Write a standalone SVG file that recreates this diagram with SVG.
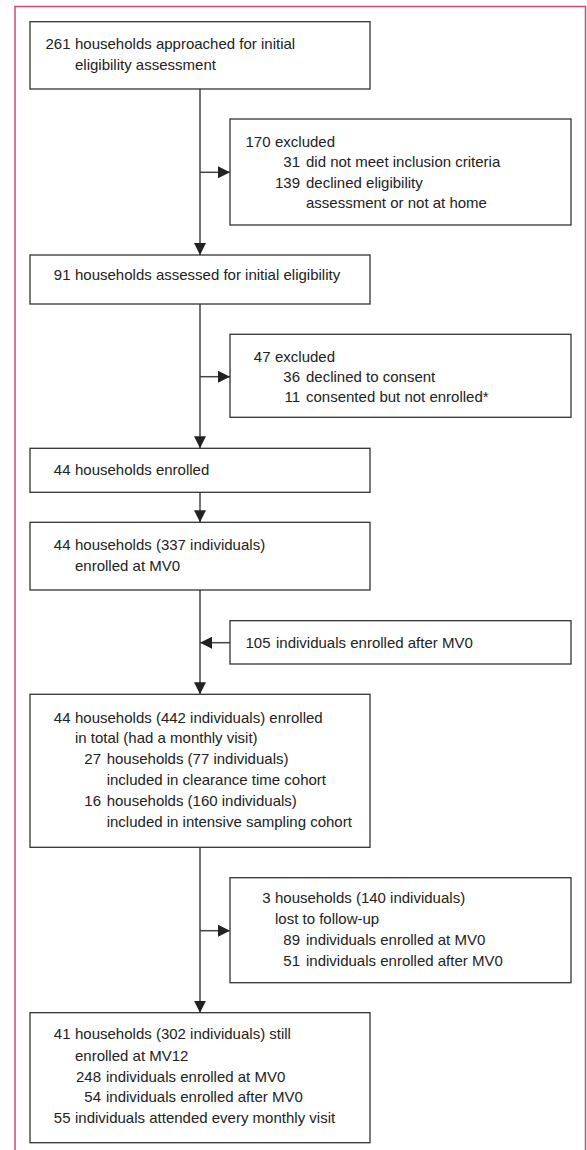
<svg xmlns="http://www.w3.org/2000/svg" width="587" height="1150" viewBox="0 0 587 1150">
<style>
.box{fill:#fff;stroke:#333;stroke-width:1.3}
.t{font-family:"Liberation Sans",Arial,sans-serif;font-size:15px;fill:#222}
.n{text-anchor:end}
.c{fill:none;stroke:#444;stroke-width:1.5}
.frame{fill:none;stroke:#cc4a74;stroke-width:1.5}
</style>
<defs>
<marker id="ah" markerUnits="userSpaceOnUse" markerWidth="12" markerHeight="12" refX="12" refY="6" orient="auto">
<path d="M0,0 L12,6 L0,12 z" fill="#222"/>
</marker>
</defs>
<rect width="587" height="1150" fill="#fff"/>
<path class="frame" d="M15,1150 V6.5 H585.5 V1150"/>

<g id="connectors">
<line class="c" x1="200" y1="89" x2="200" y2="255" marker-end="url(#ah)"/>
<line class="c" x1="200" y1="172.3" x2="230" y2="172.3" marker-end="url(#ah)"/>
<line class="c" x1="200" y1="304" x2="200" y2="448.3" marker-end="url(#ah)"/>
<line class="c" x1="200" y1="376.7" x2="230" y2="376.7" marker-end="url(#ah)"/>
<line class="c" x1="200" y1="492.3" x2="200" y2="522.3" marker-end="url(#ah)"/>
<line class="c" x1="200" y1="590" x2="200" y2="694.3" marker-end="url(#ah)"/>
<line class="c" x1="230" y1="642.7" x2="200" y2="642.7" marker-end="url(#ah)"/>
<line class="c" x1="200" y1="847.3" x2="200" y2="1012.7" marker-end="url(#ah)"/>
<line class="c" x1="200" y1="930.7" x2="230" y2="930.7" marker-end="url(#ah)"/>
</g>

<g id="n1">
<rect class="box" x="30" y="21.7" width="340" height="67.3"/>
<text class="t n" x="70.5" y="49.3">261</text>
<text class="t" x="75" y="49.3">households approached for initial</text>
<text class="t" x="75" y="70">eligibility assessment</text>
</g>

<g id="n2">
<rect class="box" x="230" y="119" width="341" height="106"/>
<text class="t n" x="270.5" y="146.7">170</text>
<text class="t" x="275" y="146.7">excluded</text>
<text class="t n" x="300" y="166.7">31</text>
<text class="t" x="306" y="166.7">did not meet inclusion criteria</text>
<text class="t n" x="300" y="187.7">139</text>
<text class="t" x="306" y="187.7">declined eligibility</text>
<text class="t" x="306" y="208.3">assessment or not at home</text>
</g>

<g id="n3">
<rect class="box" x="30" y="255" width="340" height="49"/>
<text class="t n" x="70.5" y="280">91</text>
<text class="t" x="75" y="280">households assessed for initial eligibility</text>
</g>

<g id="n4">
<rect class="box" x="230" y="334.3" width="341" height="83"/>
<text class="t n" x="270.5" y="361.7">47</text>
<text class="t" x="275" y="361.7">excluded</text>
<text class="t n" x="300" y="381.7">36</text>
<text class="t" x="306" y="381.7">declined to consent</text>
<text class="t n" x="300" y="402">11</text>
<text class="t" x="306" y="402">consented but not enrolled*</text>
</g>

<g id="n5">
<rect class="box" x="30" y="448.3" width="340" height="44"/>
<text class="t n" x="70.5" y="475">44</text>
<text class="t" x="75" y="475">households enrolled</text>
</g>

<g id="n6">
<rect class="box" x="30" y="522.3" width="340" height="67.7"/>
<text class="t n" x="70.5" y="550">44</text>
<text class="t" x="75" y="550">households (337 individuals)</text>
<text class="t" x="75" y="570.7">enrolled at MV0</text>
</g>

<g id="n7">
<rect class="box" x="230" y="620.7" width="341" height="43.3"/>
<text class="t n" x="270.5" y="648.3">105</text>
<text class="t" x="276" y="648.3">individuals enrolled after MV0</text>
</g>

<g id="n8">
<rect class="box" x="30" y="694.3" width="340" height="153"/>
<text class="t n" x="70.5" y="722.7">44</text>
<text class="t" x="75" y="722.7">households (442 individuals) enrolled</text>
<text class="t" x="75" y="743.3">in total (had a monthly visit)</text>
<text class="t n" x="101" y="764">27</text>
<text class="t" x="106.7" y="764">households (77 individuals)</text>
<text class="t" x="106.7" y="785">included in clearance time cohort</text>
<text class="t n" x="101" y="806">16</text>
<text class="t" x="106.7" y="806">households (160 individuals)</text>
<text class="t" x="106.7" y="826.7">included in intensive sampling cohort</text>
</g>

<g id="n9">
<rect class="box" x="230" y="877.7" width="341" height="105"/>
<text class="t n" x="270.5" y="903.3">3</text>
<text class="t" x="275" y="903.3">households (140 individuals)</text>
<text class="t" x="275" y="924">lost to follow-up</text>
<text class="t n" x="300" y="945">89</text>
<text class="t" x="306" y="945">individuals enrolled at MV0</text>
<text class="t n" x="300" y="965.7">51</text>
<text class="t" x="306" y="965.7">individuals enrolled after MV0</text>
</g>

<g id="n10">
<rect class="box" x="30" y="1012.7" width="340" height="130"/>
<text class="t n" x="70.5" y="1039.3">41</text>
<text class="t" x="75" y="1039.3">households (302 individuals) still</text>
<text class="t" x="75" y="1060.7">enrolled at MV12</text>
<text class="t n" x="101" y="1081.7">248</text>
<text class="t" x="106" y="1081.7">individuals enrolled at MV0</text>
<text class="t n" x="101" y="1101.7">54</text>
<text class="t" x="106" y="1101.7">individuals enrolled after MV0</text>
<text class="t n" x="70.5" y="1122.7">55</text>
<text class="t" x="75" y="1122.7">individuals attended every monthly visit</text>
</g>
</svg>
